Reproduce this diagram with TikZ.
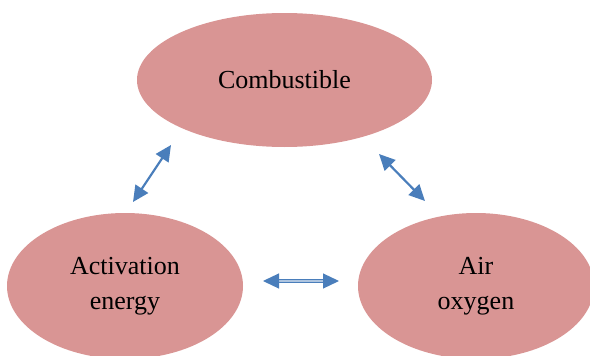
\documentclass[tikz,border=0pt]{standalone}
\usepackage{fontspec}
\setmainfont{Liberation Serif}
\usetikzlibrary{shapes.geometric,arrows.meta}
\definecolor{ellfill}{HTML}{D99594}
\definecolor{arrowblue}{HTML}{4A7EBB}
\tikzset{
  blob/.style={ellipse, fill=ellfill, draw=none, inner sep=0pt, align=center,
    font=\fontsize{26pt}{35pt}\selectfont, text=black},
  link/.style={draw=arrowblue, line width=2.2pt,
    {Triangle[length=16pt,width=15pt]}-{Triangle[length=16pt,width=15pt]}},
  hlink/.style={draw=arrowblue, line width=1.2pt, double=arrowblue!45, double distance=1.3pt,
    {Triangle[length=16pt,width=15pt]}-{Triangle[length=16pt,width=15pt]}}
}
\begin{document}
\begin{tikzpicture}[x=1pt,y=-1pt]
\useasboundingbox (0,0) rectangle (590,356);
\node[blob, minimum width=295pt, minimum height=134pt] (comb) at (284.5,80) {Combustible};
\node[blob, minimum width=236pt, minimum height=146pt] (act) at (125,286) {Activation\\energy};
\node[blob, minimum width=236pt, minimum height=146pt] (air) at (476,286) {Air\\oxygen};
\coordinate (a1) at (133,202);
\coordinate (a2) at (171,145);
\coordinate (b1) at (379,154);
\coordinate (b2) at (425,201);
\coordinate (c1) at (263,281);
\coordinate (c2) at (339,281);
\draw[link] (a1) -- (a2);
\draw[link] (b1) -- (b2);
\draw[hlink] (c1) -- (c2);
\end{tikzpicture}
\end{document}
